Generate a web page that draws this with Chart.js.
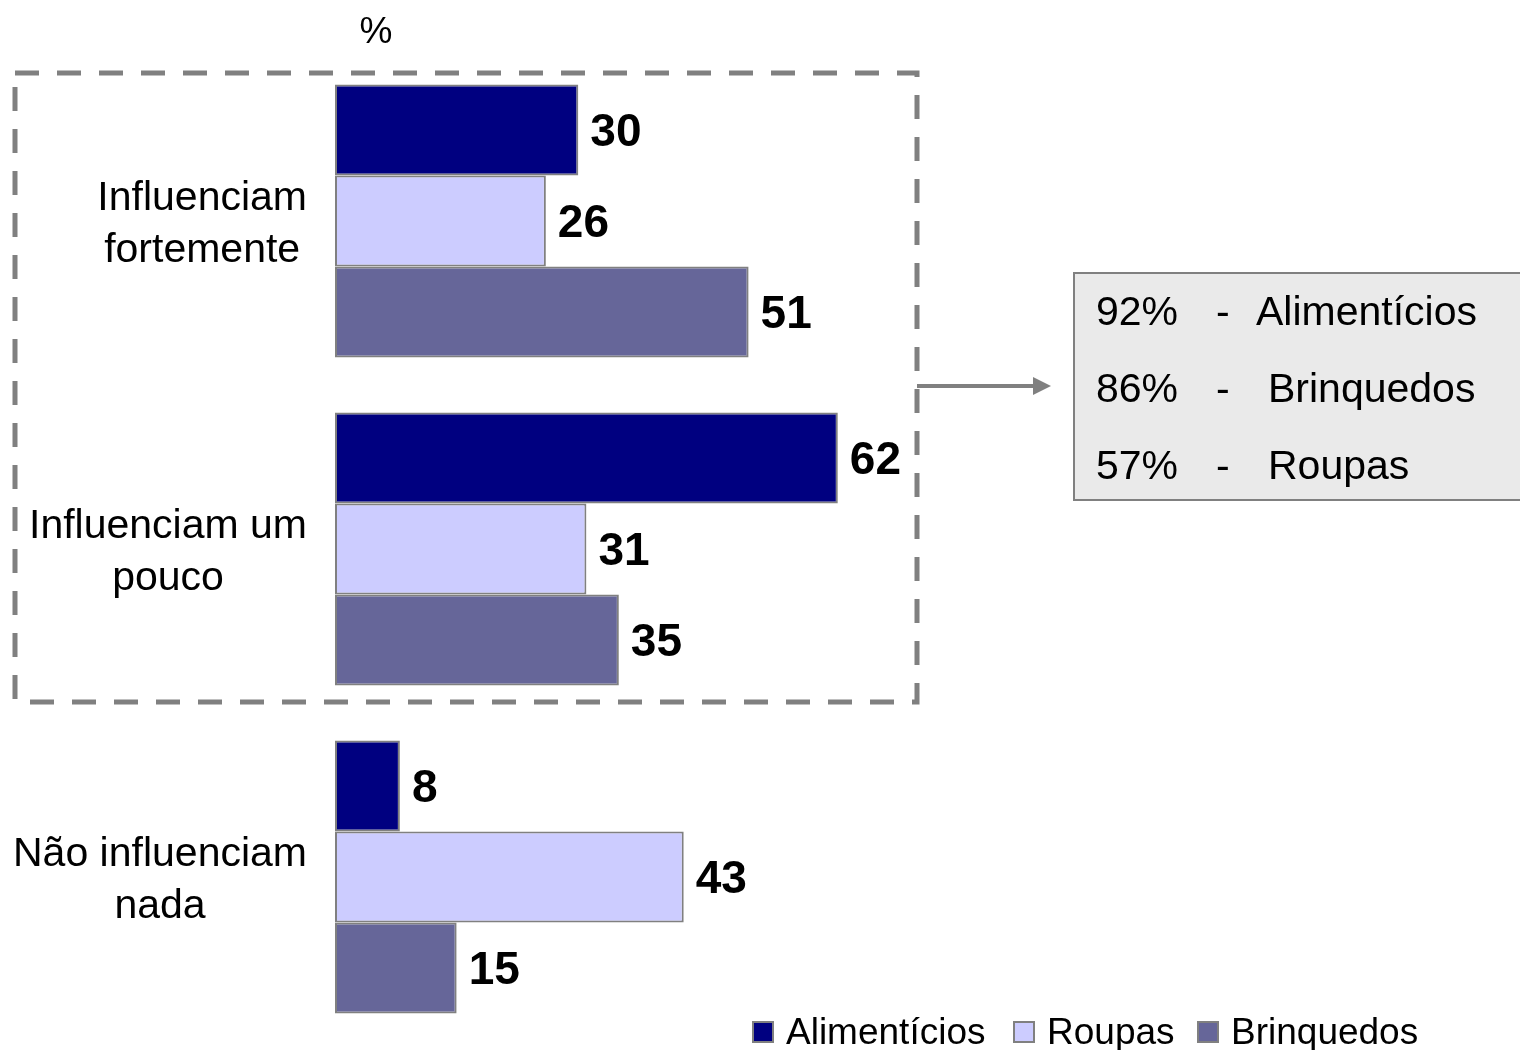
<!DOCTYPE html>
<html>
<head>
<meta charset="utf-8">
<script src="https://cdn.jsdelivr.net/npm/chart.js@4.4.0/dist/chart.umd.min.js"></script>
<style>
    html, body { margin: 0; padding: 0; background: #ffffff; }
    canvas { display: block; }
</style>
</head>
<body>
<canvas id="influenceChart" width="1520" height="1050"></canvas>
<script>
// Categorias e séries
const categories = [
    ['Influenciam', 'fortemente'],
    ['Influenciam um', 'pouco'],
    ['Não influenciam', 'nada']
];
const seriesNames = ['Alimentícios', 'Roupas', 'Brinquedos'];
const alimenticios = [30, 62, 8];
const roupas = [26, 31, 43];
const brinquedos = [51, 35, 15];
const seriesColors = ['#000080', '#CCCCFF', '#666699'];

// Quadro de resumo à direita
const summaryPct = ['92%', '86%', '57%'];
const summaryNames = ['Alimentícios', 'Brinquedos', 'Roupas'];

const FONT = '"Liberation Sans", Arial, sans-serif';
const GRAY = '#808080';

// Textos, moldura tracejada, seta e legenda
const decorPlugin = {
    id: 'decor',
    afterDatasetsDraw(chart) {
        const ctx = chart.ctx;
        const yScale = chart.scales.y;
        ctx.save();

        // valores em negrito ao lado das barras
        ctx.fillStyle = '#000';
        ctx.font = 'bold 46px ' + FONT;
        ctx.textAlign = 'left';
        ctx.textBaseline = 'middle';
        chart.data.datasets.forEach((ds, i) => {
            chart.getDatasetMeta(i).data.forEach((bar, j) => {
                ctx.fillText(String(ds.data[j]), bar.x + 12, bar.y + 3);
            });
        });

        // rótulos das categorias (centrados, alinhados à direita em 307)
        ctx.font = '41px ' + FONT;
        ctx.textAlign = 'center';
        categories.forEach((lines, j) => {
            const yc = yScale.getPixelForValue(j) + 4;
            const w = Math.max(...lines.map(l => ctx.measureText(l).width));
            const xc = 307 - w / 2;
            lines.forEach((l, k) => {
                ctx.fillText(l, xc, yc + (k - (lines.length - 1) / 2) * 52);
            });
        });

        // símbolo de unidade
        ctx.font = '37px ' + FONT;
        ctx.fillText('%', 376, 33);

        // moldura tracejada
        ctx.strokeStyle = GRAY;
        ctx.lineWidth = 5;
        ctx.setLineDash([24, 18]);
        ctx.strokeRect(15, 73, 902, 629);
        ctx.setLineDash([]);

        // seta
        ctx.lineWidth = 4;
        ctx.beginPath();
        ctx.moveTo(917, 386);
        ctx.lineTo(1036, 386);
        ctx.stroke();
        ctx.fillStyle = GRAY;
        ctx.beginPath();
        ctx.moveTo(1051, 386);
        ctx.lineTo(1033, 377);
        ctx.lineTo(1033, 395);
        ctx.closePath();
        ctx.fill();

        // quadro de resumo
        ctx.fillStyle = '#EAEAEA';
        ctx.fillRect(1074, 273, 460, 227);
        ctx.lineWidth = 2;
        ctx.strokeRect(1074, 273, 460, 227);
        ctx.fillStyle = '#000';
        ctx.font = '41px ' + FONT;
        ctx.textAlign = 'left';
        const rowY = [314, 391, 468];
        const nameX = [1256, 1268, 1268];
        summaryPct.forEach((p, k) => {
            ctx.fillText(p, 1096, rowY[k]);
            ctx.fillText('-', 1216, rowY[k]);
            ctx.fillText(summaryNames[k], nameX[k], rowY[k]);
        });

        // legenda
        ctx.font = '37px ' + FONT;
        const legendX = [752, 1013, 1197];
        seriesNames.forEach((name, k) => {
            ctx.fillStyle = seriesColors[k];
            ctx.fillRect(legendX[k] + 1, 1022, 20, 20);
            ctx.strokeStyle = GRAY;
            ctx.lineWidth = 2;
            ctx.strokeRect(legendX[k] + 1, 1022, 20, 20);
            ctx.fillStyle = '#000';
            ctx.fillText(name, legendX[k] + 34, 1034);
        });

        ctx.restore();
    }
};

new Chart(document.getElementById('influenceChart'), {
    type: 'bar',
    data: {
        labels: categories,
        datasets: [
            { label: seriesNames[0], data: alimenticios, backgroundColor: seriesColors[0] },
            { label: seriesNames[1], data: roupas, backgroundColor: seriesColors[1] },
            { label: seriesNames[2], data: brinquedos, backgroundColor: seriesColors[2] }
        ].map(ds => Object.assign(ds, {
            borderColor: GRAY,
            borderWidth: 2,
            borderSkipped: false,
            categoryPercentage: 0.832,
            barPercentage: 1.0
        }))
    },
    options: {
        indexAxis: 'y',
        responsive: false,
        animation: false,
        layout: {
            padding: { left: 335, right: 374, top: 57, bottom: 9 }
        },
        plugins: {
            legend: { display: false },
            tooltip: { enabled: false }
        },
        scales: {
            x: { display: false, min: 0, max: 100 },
            y: { display: false }
        }
    },
    plugins: [decorPlugin]
});
</script>
</body>
</html>
